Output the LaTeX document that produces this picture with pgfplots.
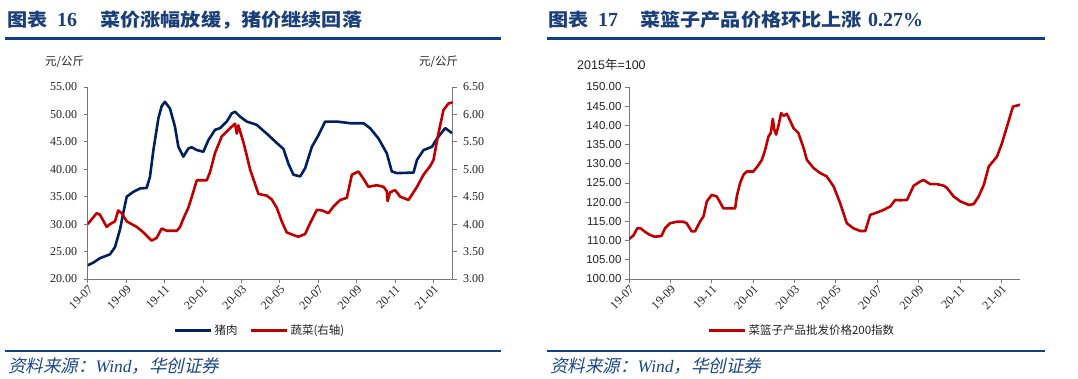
\documentclass[border=0pt]{standalone}
\usepackage{fontspec}
\setmainfont{Liberation Serif}
\newfontfamily\cjk{Noto Sans CJK SC}
\newfontfamily\cjkt[FakeStretch=1.12]{Noto Sans CJK SC}
\newfontfamily\cjki[FakeSlant=0.22]{Noto Sans CJK SC}
\newfontfamily\arial{Liberation Sans}
\usepackage{pgfplots}
\pgfplotsset{compat=1.18}
\definecolor{titleblue}{RGB}{27,63,120}
\definecolor{ruleblue}{RGB}{12,66,133}
\definecolor{footblue}{RGB}{25,70,140}
\definecolor{porkblue}{RGB}{0,32,96}
\definecolor{vegred}{RGB}{192,0,0}
\definecolor{axgray}{RGB}{120,120,120}
\definecolor{txt}{RGB}{35,35,35}

\pgfplotstableread{
m v
0 22.5
0.3 23.0
0.64 23.8
1.16 24.5
1.42 25.8
1.68 29.0
1.85 32.0
2.03 35.0
2.38 35.9
2.72 36.5
3.07 36.6
3.24 38.6
3.42 43.5
3.68 49.3
3.85 51.5
4.02 52.3
4.28 51.1
4.54 47.8
4.72 44.1
4.98 42.3
5.24 43.8
5.42 44.0
5.68 43.5
6.02 43.2
6.28 45.3
6.63 47.2
6.89 47.5
7.24 48.7
7.50 50.2
7.67 50.5
7.93 49.6
8.28 48.7
8.80 48.1
9.32 46.5
9.84 44.8
10.19 43.7
10.45 41.0
10.71 39.0
11.06 38.7
11.32 40.2
11.67 44.1
12.01 46.2
12.36 48.7
12.97 48.7
13.66 48.4
14.35 48.4
14.70 47.5
15.14 45.6
15.57 42.9
15.83 39.6
16.09 39.3
16.96 39.4
17.14 41.7
17.48 43.5
17.92 44.1
18.18 45.6
18.61 47.5
18.96 46.6
}\pork

\pgfplotstableread{
m v
0 4.00
0.47 4.20
0.64 4.17
0.99 3.95
1.16 4.00
1.42 4.05
1.59 4.25
1.77 4.20
2.03 4.05
2.55 3.95
2.90 3.85
3.33 3.70
3.59 3.75
3.85 3.92
4.11 3.88
4.64 3.88
4.81 3.95
4.98 4.10
5.24 4.30
5.42 4.50
5.68 4.80
6.20 4.80
6.37 4.95
6.63 5.30
6.98 5.60
7.41 5.75
7.67 5.83
7.76 5.65
7.84 5.80
8.10 5.50
8.28 5.25
8.45 5.00
8.89 4.55
9.32 4.52
9.58 4.45
9.84 4.30
10.10 4.05
10.36 3.85
10.71 3.80
10.97 3.77
11.32 3.82
11.58 4.02
11.93 4.26
12.19 4.25
12.53 4.20
12.79 4.32
13.14 4.44
13.49 4.48
13.75 4.90
14.09 4.96
14.35 4.83
14.61 4.68
15.05 4.71
15.40 4.68
15.57 4.60
15.61 4.42
15.74 4.58
16.00 4.62
16.27 4.50
16.70 4.44
17.14 4.68
17.48 4.90
17.83 5.06
18.00 5.17
18.26 5.66
18.52 6.08
18.78 6.20
19.00 6.22
}\veg

\pgfplotstableread{
m v
0 110.4
0.21 111.3
0.40 113.2
0.56 113.2
0.77 112.3
1.00 111.5
1.25 111.0
1.57 111.2
1.74 113.2
1.98 114.5
2.30 114.9
2.63 114.9
2.79 114.5
3.03 112.4
3.19 112.4
3.44 115.0
3.60 116.3
3.76 120.2
4.00 121.9
4.24 121.5
4.40 120.0
4.56 118.4
5.13 118.4
5.21 121.5
5.37 125.0
5.53 127.1
5.69 128.0
6.02 128.0
6.26 129.7
6.42 131.0
6.58 133.6
6.74 137.1
6.85 138.0
6.95 141.7
7.02 139.0
7.11 137.6
7.23 140.0
7.35 143.2
7.47 142.5
7.63 143.0
7.79 141.2
7.95 139.3
8.19 138.0
8.44 134.1
8.60 131.0
8.92 128.9
9.24 127.6
9.56 126.7
9.89 124.1
10.21 119.7
10.53 114.5
10.85 113.2
11.18 112.5
11.42 112.5
11.66 116.7
11.98 117.3
12.31 118.0
12.63 118.9
12.87 120.6
13.11 120.5
13.44 120.6
13.76 124.3
14.08 125.4
14.24 125.8
14.56 124.7
14.89 124.7
15.21 124.3
15.37 123.7
15.69 121.5
16.02 120.2
16.42 119.3
16.66 119.5
16.90 121.5
17.15 124.5
17.39 129.3
17.79 131.9
18.03 135.4
18.27 139.7
18.56 144.9
18.92 145.4
}\basket

\pgfplotsset{
  base/.style={
    scale only axis,
    anchor=south west,
    height=192pt,
    xmin=0,
    axis line style={axgray, line width=0.8pt},
    tick style={axgray, line width=0.8pt},
    major tick length=4pt,
    tick align=outside,
    xtick={0,2,...,18},
    xticklabels={19-07,19-09,19-11,20-01,20-03,20-05,20-07,20-09,20-11,21-01},
    x tick label style={rotate=45, anchor=north east, font=\fontsize{12}{12}\selectfont, text=txt, inner sep=1pt},
    y tick label style={/pgf/number format/fixed, /pgf/number format/fixed zerofill, /pgf/number format/precision=2, /pgf/number format/assume math mode=true, text=txt},
    legend image code/.code={\draw[#1, line width=3pt] (0pt,0pt) -- (36pt,0pt);},
  },
}

\begin{document}
\begin{tikzpicture}[x=1pt,y=1pt]
\path (0pt,0pt) rectangle (1078pt,379pt);

% ---------- titles ----------
\node[anchor=base west, inner sep=0, text=titleblue] at (7pt,352pt) {\fontsize{18}{20}\selectfont\cjkt\bfseries 图表};
\node[anchor=base west, inner sep=0, text=titleblue] at (57pt,352pt) {\fontsize{20}{20}\selectfont\rmfamily\bfseries 16};
\node[anchor=base west, inner sep=0, text=titleblue] at (100pt,352pt) {\fontsize{18}{20}\selectfont\cjkt\bfseries 菜价涨幅放缓，猪价继续回落};

\node[anchor=base west, inner sep=0, text=titleblue] at (548pt,352pt) {\fontsize{18}{20}\selectfont\cjkt\bfseries 图表};
\node[anchor=base west, inner sep=0, text=titleblue] at (598pt,352pt) {\fontsize{20}{20}\selectfont\rmfamily\bfseries 17};
\node[anchor=base west, inner sep=0, text=titleblue] at (640pt,352pt) {\fontsize{18}{20}\selectfont\cjkt\bfseries 菜篮子产品价格环比上涨};
\node[anchor=base west, inner sep=0, text=titleblue] at (868pt,352pt) {\fontsize{20}{20}\selectfont\rmfamily\bfseries 0.27\%};

\draw[ruleblue, line width=2.5pt] (5pt,340.5pt) -- (501pt,340.5pt);
\draw[ruleblue, line width=2.5pt] (547pt,340.5pt) -- (1045pt,340.5pt);
\draw[ruleblue, line width=2.5pt] (5pt,28pt) -- (501pt,28pt);
\draw[ruleblue, line width=2.5pt] (547pt,28pt) -- (1045pt,28pt);

% ---------- footers ----------
\node[anchor=base west, inner sep=0, text=footblue] at (8pt,6pt) {\fontsize{17.5}{18}\selectfont\cjki 资料来源：{\rmfamily\itshape Wind}，华创证券};
\node[anchor=base west, inner sep=0, text=footblue] at (550pt,6pt) {\fontsize{17.5}{18}\selectfont\cjki 资料来源：{\rmfamily\itshape Wind}，华创证券};

% ---------- unit labels ----------
\node[anchor=west, inner sep=0, text=txt] at (45pt,317pt) {\fontsize{11.5}{12}\selectfont\cjk 元/公斤};
\node[anchor=west, inner sep=0, text=txt] at (419pt,317pt) {\fontsize{11.5}{12}\selectfont\cjk 元/公斤};
\node[anchor=west, inner sep=0, text=txt] at (577pt,314pt) {\fontsize{12.5}{13}\selectfont\arial 2015{\cjk 年}=100};

% ---------- left panel ----------
\begin{axis}[base,
  at={(87.7pt,100pt)}, width=365pt,
  xmax=19,
  ymin=20, ymax=55, ytick={20,25,...,55},
  axis x line*=bottom, axis y line*=left,
  y tick label style={font=\fontsize{12}{12}\selectfont, xshift=-3pt},
  legend style={at={(0.472,-0.266)}, anchor=center, draw=none, fill=none,
    legend columns=2, font=\fontsize{11.5}{12}\selectfont\cjk, text=txt,
    /tikz/every even column/.append style={column sep=10pt},
    legend cell align=left, inner sep=0pt},
]
\addlegendimage{porkblue}
\addlegendentry{猪肉}
\addlegendimage{vegred}
\addlegendentry{蔬菜(右轴)}
\addplot[porkblue, line width=2.6pt, line join=round] table[x=m, y=v] {\pork};
\end{axis}

\begin{axis}[base,
  at={(87.7pt,100pt)}, width=365pt,
  xmax=19,
  ymin=3, ymax=6.5, ytick={3,3.5,...,6.5},
  axis y line*=right, axis x line=none,
  y tick label style={font=\fontsize{12}{12}\selectfont, xshift=3pt},
]
\addplot[vegred, line width=2.6pt, line join=round] table[x=m, y=v] {\veg};
\end{axis}

% ---------- right panel ----------
\begin{axis}[base,
  at={(629pt,100pt)}, width=391pt,
  xmax=18.9,
  ymin=100, ymax=150, ytick={100,105,...,150},
  axis x line*=bottom, axis y line*=left,
  y tick label style={font=\fontsize{11.5}{12}\selectfont\arial},
  legend style={at={(0.442,-0.266)}, anchor=center, draw=none, fill=none,
    font=\fontsize{11.5}{12}\selectfont\cjk, text=txt, inner sep=0pt},
]
\addlegendimage{vegred}
\addlegendentry{菜篮子产品批发价格200指数}
\addplot[vegred, line width=2.6pt, line join=round] table[x=m, y=v] {\basket};
\end{axis}

\end{tikzpicture}
\end{document}
